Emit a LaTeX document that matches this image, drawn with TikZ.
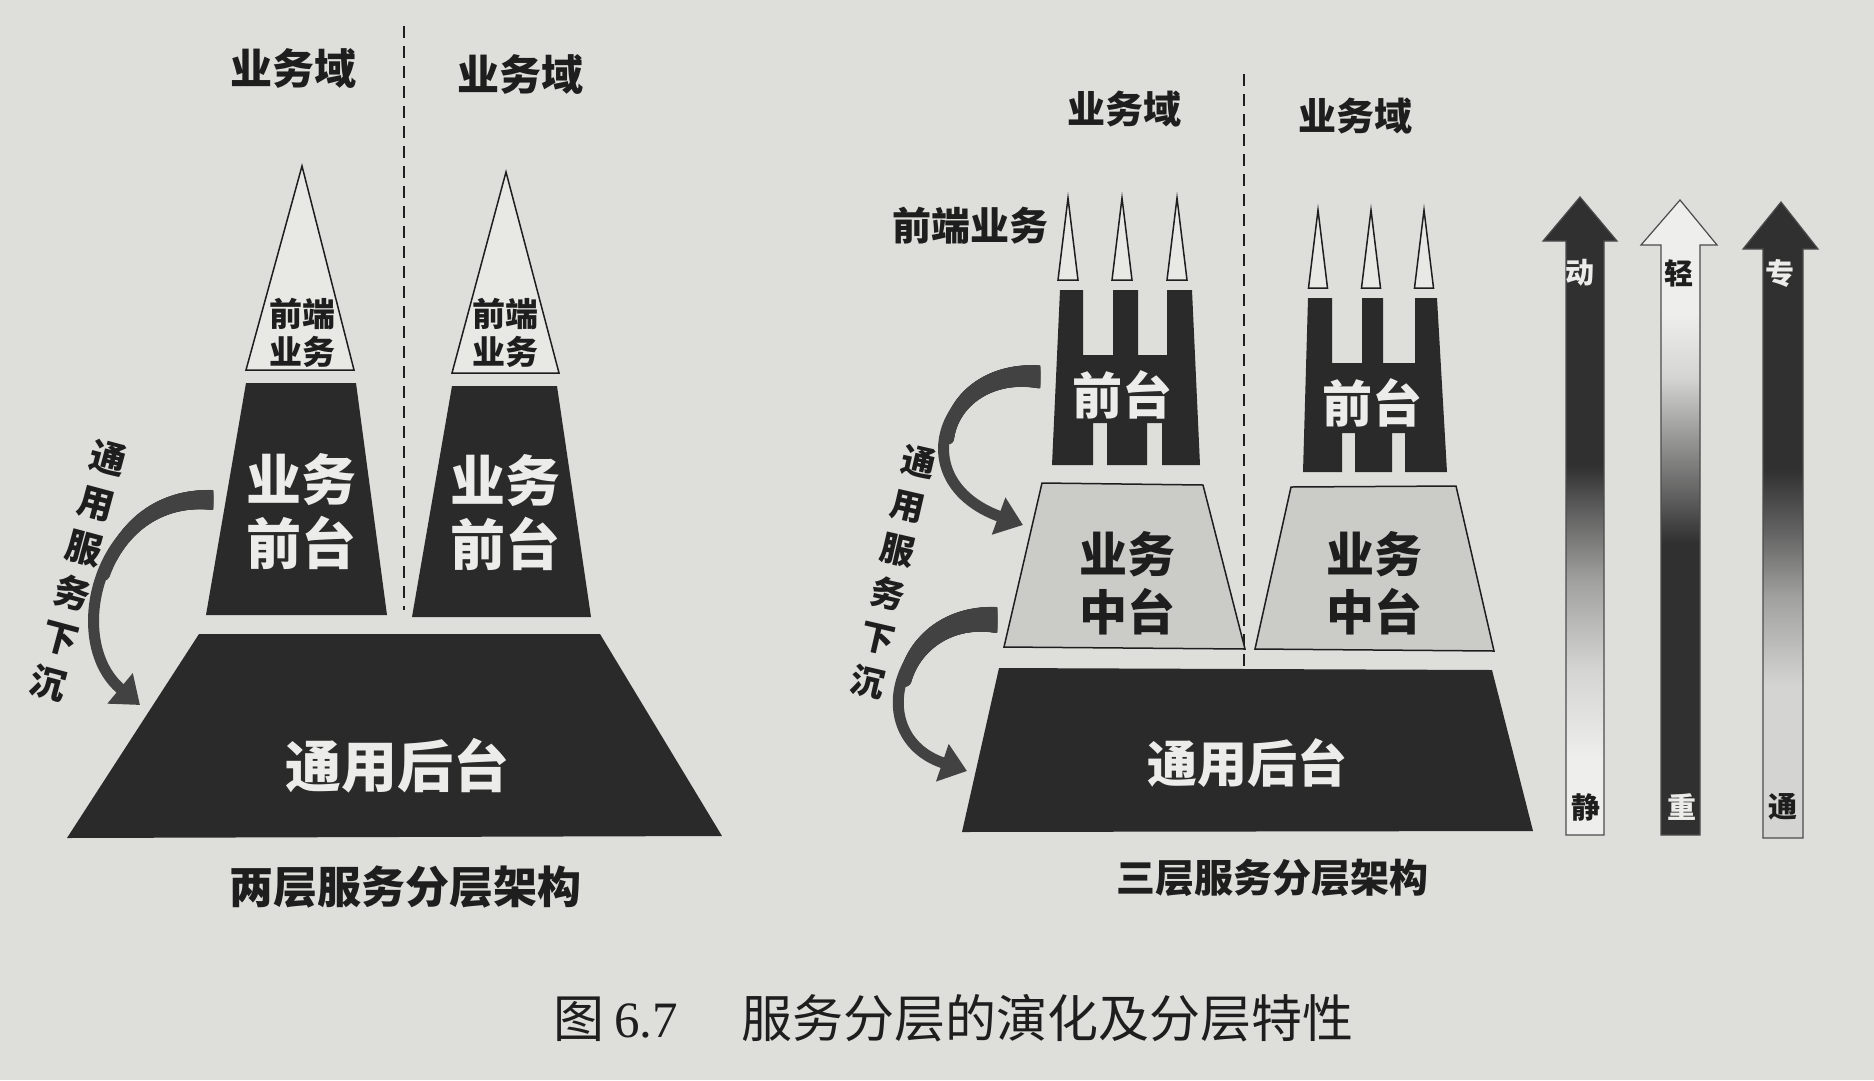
\documentclass[tikz,border=0pt]{standalone}
\usepackage{fontspec}
\newfontfamily\cjk{Noto Sans CJK SC}
\newfontfamily\serifnum{Liberation Serif}
\usetikzlibrary{arrows.meta,decorations.markings}
\definecolor{bgc}{RGB}{222,222,219}
\definecolor{dk}{RGB}{42,42,42}
\definecolor{txt}{RGB}{30,30,30}
\definecolor{wtxt}{RGB}{236,236,234}
\definecolor{lightfill}{RGB}{203,203,200}
\definecolor{paler}{RGB}{232,232,229}
\definecolor{arw}{RGB}{66,66,66}
\definecolor{g0}{RGB}{238,238,236}
\definecolor{g1}{RGB}{212,212,210}
\definecolor{g2}{RGB}{160,160,158}
\definecolor{g3}{RGB}{100,100,100}
\definecolor{g4}{RGB}{48,48,48}
\pgfdeclareverticalshading{darktopA}{100bp}{color(0bp)=(g0); color(25bp)=(g0); color(31bp)=(g0); color(38bp)=(g1); color(45bp)=(g2); color(50bp)=(g3); color(54bp)=(g4); color(100bp)=(g4)}
\pgfdeclareverticalshading{darktopC}{100bp}{color(0bp)=(g1); color(25bp)=(g1); color(37bp)=(g1); color(44bp)=(g2); color(49bp)=(g3); color(54bp)=(g4); color(100bp)=(g4)}
\pgfdeclareverticalshading{lighttop}{100bp}{color(0bp)=(g4); color(25bp)=(g4); color(48bp)=(g4); color(52bp)=(g3); color(57bp)=(g2); color(61bp)=(g1); color(66bp)=(g0); color(100bp)=(g0)}
\tikzset{
  lbl/.style={font=\cjk\bfseries\fontsize{#1}{#1}\selectfont, text=txt, inner sep=0pt},
  wlbl/.style={lbl=#1, text=wtxt},
  twol/.style 2 args={font=\cjk\bfseries\fontsize{#1}{#2}\selectfont, align=center, inner sep=0pt, text=wtxt},
  darkshape/.style={fill=dk},
  lightshape/.style={fill=lightfill, draw=txt, line width=1.5pt},
  spike/.style={fill=paler, draw=txt, line width=1.5pt, line join=miter},
  divider/.style={draw=txt, line width=2.6pt, dash pattern=on 12pt off 8pt},
  sinkarrow/.style={draw=arw, line width=11pt, -{Triangle[length=26pt,width=38pt]},
    postaction={decorate, decoration={markings,
      mark=between positions 0 and 0.5 step 1pt with {
        \fill[arw] (0,0) circle ({#1*(1-\pgfkeysvalueof{/pgf/decoration/mark info/distance from start}/\pgfdecoratedpathlength)});}}}},
  sinkarrow/.default=11,
  gradarrow/.style={draw=black!70, line width=1.2pt},
}
\begin{document}
\begin{tikzpicture}[x=1pt,y=-1pt]
\fill[bgc] (0,0) rectangle (1874,1080);
\useasboundingbox (0,0) rectangle (1874,1080);

% ================= left: two-layer =================
\coordinate (dL0) at (404,26);
\coordinate (dL1) at (404,610);
\draw[divider] (dL0) -- (dL1);
\node[lbl=42] (domL1) at (293,69) {业务域};
\node[lbl=42] (domL2) at (520,75) {业务域};

\filldraw[spike] (302,166) -- (354,370) -- (246,370) -- cycle;
\filldraw[spike] (506,172) -- (559,373) -- (452,373) -- cycle;
\node[twol={33}{38}, text=txt] (feL1) at (302,333) {前端\\业务};
\node[twol={33}{38}, text=txt] (feL2) at (505,333) {前端\\业务};

\fill[darkshape] (246,383) -- (356,383) -- (387,615) -- (206,615) -- cycle;
\fill[darkshape] (452,386) -- (557,386) -- (591,617) -- (412,617) -- cycle;
\node[twol={55}{64}] (bfL1) at (301,512) {业务\\前台};
\node[twol={55}{64}] (bfL2) at (505,513) {业务\\前台};

\fill[darkshape] (199,634) -- (600,634) -- (722,836) -- (67,838) -- cycle;
\node[wlbl=56] (beL) at (397,766) {通用后台};

\coordinate (aL0) at (213,500);
\coordinate (aL1) at (140,705);
\begin{scope}
  \clip (0,0) rectangle (213,1080);
  \draw[sinkarrow=10] (aL0) .. controls (100,492) and (62,640) .. (aL1);
\end{scope}
\node[twol={36}{46.6}, text=txt, rotate=-15] (sinkL) at (78,571) {通\\用\\服\\务\\下\\沉};

\node[lbl=44] (capL) at (405,887) {两层服务分层架构};

% ================= middle: three-layer =================
\coordinate (dR0) at (1244,74);
\coordinate (dR1) at (1244,668);
\draw[divider] (dR0) -- (dR1);
\node[lbl=38] (domR1) at (1124,109) {业务域};
\node[lbl=38] (domR2) at (1355,116) {业务域};
\node[lbl=39] (feR) at (970,226) {前端业务};

\foreach \cx in {1068,1122,1177}{
  \filldraw[spike] (\cx,198) -- (\cx+10,280) -- (\cx-10,280) -- cycle;
}
\foreach \cx in {1318,1371,1424}{
  \filldraw[spike] (\cx,210) -- (\cx+9.5,288) -- (\cx-9.5,288) -- cycle;
}

\fill[darkshape] (1060,290) -- (1083,290) -- (1083,355) -- (1113,355) -- (1113,290) -- (1138,290) -- (1138,355) -- (1167,355) -- (1167,290) -- (1192,290) -- (1200,465) -- (1162,465) -- (1162,423) -- (1147,423) -- (1147,465) -- (1107,465) -- (1107,423) -- (1093,423) -- (1093,465) -- (1052,465) -- cycle;
\fill[darkshape] (1308,298) -- (1332,298) -- (1332,363) -- (1362,363) -- (1362,298) -- (1383,298) -- (1383,363) -- (1415,363) -- (1415,298) -- (1437,298) -- (1447,472) -- (1405,472) -- (1405,433) -- (1392,433) -- (1392,472) -- (1355,472) -- (1355,433) -- (1342,433) -- (1342,472) -- (1303,472) -- cycle;
\node[wlbl=50] (ftR1) at (1122,395) {前台};
\node[wlbl=50] (ftR2) at (1372,403) {前台};

\filldraw[lightshape] (1042,483) -- (1203,485) -- (1245,649) -- (1004,647) -- cycle;
\filldraw[lightshape] (1291,487) -- (1456,486) -- (1494,651) -- (1255,649) -- cycle;
\node[twol={48}{58}, text=txt] (mdR1) at (1127,583) {业务\\中台};
\node[twol={48}{58}, text=txt] (mdR2) at (1374,583) {业务\\中台};

\fill[darkshape] (999,668) -- (1492,670) -- (1533,831) -- (962,832) -- cycle;
\node[wlbl=50] (beR) at (1247,763) {通用后台};

\coordinate (aR0) at (1040,377);
\coordinate (aR1) at (1023,525);
\coordinate (aR2) at (997,620);
\coordinate (aR3) at (967,771);
\begin{scope}
  \clip (0,0) rectangle (1040,1080);
  \draw[sinkarrow=11.5] (aR0) .. controls (945,365) and (900,480) .. (aR1);
\end{scope}
\begin{scope}
  \clip (0,0) rectangle (997,1080);
  \draw[sinkarrow=13] (aR2) .. controls (900,610) and (860,735) .. (aR3);
\end{scope}
\node[twol={34}{45.3}, text=txt, rotate=-13] (sinkR) at (893,572) {通\\用\\服\\务\\下\\沉};

\node[lbl=39] (capR) at (1272,878) {三层服务分层架构};

% ================= right: characteristic arrows =================
\shadedraw[shading=darktopA, gradarrow] (1566,835) -- (1566,241) -- (1543,241) -- (1580,197) -- (1617,241) -- (1604,241) -- (1604,835) -- cycle;
\shadedraw[shading=lighttop, gradarrow] (1661,835) -- (1661,245) -- (1641,245) -- (1680,200) -- (1717,245) -- (1700,245) -- (1700,835) -- cycle;
\shadedraw[shading=darktopC, gradarrow] (1763,838) -- (1763,249) -- (1743,249) -- (1781,202) -- (1818,249) -- (1803,249) -- (1803,838) -- cycle;
\node[wlbl=29] (t1) at (1580,273) {动};
\node[lbl=29] (b1) at (1586,807) {静};
\node[lbl=29] (t2) at (1679,273) {轻};
\node[wlbl=29] (b2) at (1682,807) {重};
\node[wlbl=29] (t3) at (1780,273) {专};
\node[lbl=29] (b3) at (1783,807) {通};

% ================= caption =================
\node[anchor=west, inner sep=0pt, text=txt, font=\fontsize{51}{51}\selectfont] (cap) at (553,1018)
  {{\cjk 图}\kern10pt{\serifnum 6.7}\kern64pt{\cjk 服务分层的演化及分层特性}};
\end{tikzpicture}
\end{document}
